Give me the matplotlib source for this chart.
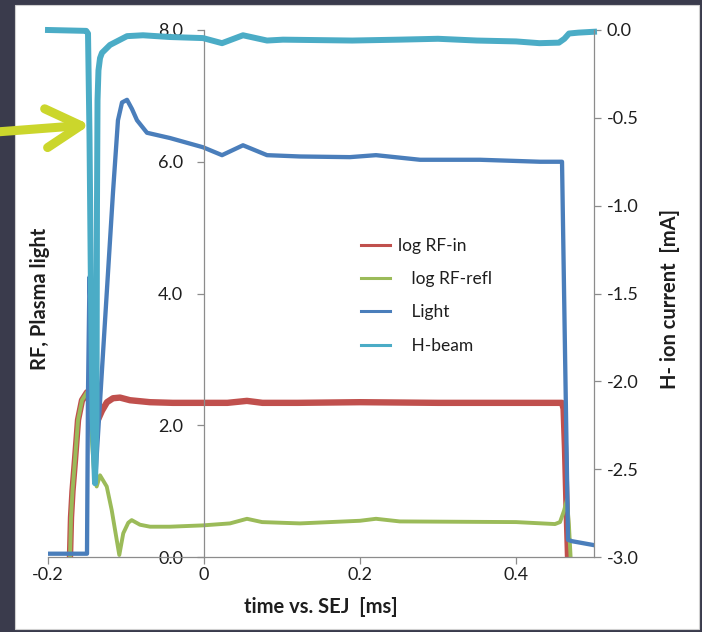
import matplotlib

matplotlib.use("Agg")
import matplotlib.pyplot as plt
from matplotlib.patches import Rectangle

plt.rcParams["font.family"] = ["Lato", "DejaVu Sans"]

# time axis in ms relative to SEJ
t_rf_in = [-0.1718, -0.1705, -0.1686, -0.1654, -0.1615, -0.1564, -0.150, -0.1462,
           -0.1397, -0.1372, -0.1308, -0.1244, -0.1167, -0.1077, -0.0949, -0.0692,
           -0.04, 0.0, 0.03, 0.055, 0.075, 0.12, 0.2, 0.3, 0.4, 0.459, 0.461,
           0.4628, 0.4647, 0.4667]
rf_in = [0.0, 0.6, 1.0, 1.47, 2.08, 2.38, 2.50, 2.30,
         2.03, 2.05, 2.22, 2.35, 2.41, 2.42, 2.38, 2.35,
         2.34, 2.34, 2.34, 2.37, 2.34, 2.34, 2.35, 2.34, 2.34, 2.34, 2.25,
         1.65, 0.8, 0.0]

t_rf_refl = [-0.1718, -0.1705, -0.1686, -0.1654, -0.1615, -0.1564, -0.150, -0.1462,
             -0.141, -0.1376, -0.1333, -0.1247, -0.1183, -0.1119, -0.1086, -0.1035,
             -0.0971, -0.0927, -0.0821, -0.0692, -0.0436, -0.0013, 0.0333, 0.0551,
             0.0744, 0.123, 0.2, 0.2205, 0.251, 0.4, 0.45, 0.4564, 0.4615, 0.4654,
             0.468, 0.470]
rf_refl = [0.0, 0.6, 1.0, 1.47, 2.08, 2.38, 2.50, 2.20,
           1.30, 1.07, 1.24, 1.07, 0.71, 0.26, 0.03, 0.36,
           0.52, 0.56, 0.49, 0.46, 0.46, 0.48, 0.51, 0.58,
           0.53, 0.51, 0.55, 0.58, 0.54, 0.53, 0.50, 0.53, 0.70, 0.87,
           0.45, 0.0]

t_light = [-0.2, -0.15, -0.1487, -0.1468, -0.1449, -0.1397, -0.1308, -0.1167,
           -0.1103, -0.1051, -0.0987, -0.0923, -0.0859, -0.0731, -0.0436, -0.0013,
           0.0231, 0.05, 0.0808, 0.123, 0.187, 0.2205, 0.277, 0.354, 0.4308,
           0.459, 0.4628, 0.4667, 0.4718, 0.5]
light = [0.05, 0.05, 2.5, 4.25, 3.6, 1.12, 2.84, 5.53,
         6.63, 6.90, 6.94, 6.80, 6.63, 6.44, 6.36, 6.22,
         6.10, 6.25, 6.10, 6.08, 6.07, 6.10, 6.03, 6.03, 6.00,
         6.00, 3.14, 0.26, 0.24, 0.18]

t_beam = [-0.2, -0.151, -0.1487, -0.1468, -0.1449, -0.1429, -0.1397, -0.1378,
          -0.1372, -0.1365, -0.1353, -0.1333, -0.1308, -0.1205, -0.0987, -0.0782,
          -0.0436, -0.0013, 0.0231, 0.05, 0.0808, 0.1013, 0.19, 0.25, 0.3, 0.35,
          0.4, 0.43, 0.455, 0.462, 0.468, 0.48, 0.5]
h_beam = [0.0, -0.005, -0.02, -0.6, -1.5, -2.2, -2.58, -2.2,
          -1.0, -0.4, -0.23, -0.16, -0.13, -0.085, -0.035, -0.03,
          -0.04, -0.046, -0.075, -0.03, -0.06, -0.055, -0.06, -0.055, -0.05, -0.06,
          -0.065, -0.075, -0.072, -0.05, -0.02, -0.015, -0.01]

x_ticks = [-0.2, 0, 0.2, 0.4]
x_tick_labels = ["-0.2", "0", "0.2", "0.4"]
left_ticks = [0, 2, 4, 6, 8]
right_ticks = [0.0, -0.5, -1.0, -1.5, -2.0, -2.5, -3.0]
series_names = ["log RF-in", "   log RF-refl", "   Light", "   H-beam"]

RED, GREEN, BLUE, CYAN = "#c0504d", "#9bbb59", "#4a7ebb", "#4bacc6"
AXIS_GRAY = "#8c8c8c"
TEXT = "#1e1e1e"

fig = plt.figure(figsize=(7.02, 6.32), dpi=100, facecolor="#3a3b4c")
fig.patches.append(Rectangle((15 / 702, 3 / 632), 684 / 702, 624 / 632,
                             transform=fig.transFigure, facecolor="white",
                             edgecolor="#d0d0d0", lw=0.8, zorder=-10))

ax = fig.add_axes([48 / 702, 75 / 632, 546 / 702, 527 / 632])
ax.patch.set_visible(False)
ax2 = ax.twinx()
ax2.patch.set_visible(False)

l1, = ax.plot(t_rf_in, rf_in, color=RED, lw=4.6, solid_joinstyle="round")
l2, = ax.plot(t_rf_refl, rf_refl, color=GREEN, lw=2.8, solid_joinstyle="round")
l3, = ax.plot(t_light, light, color=BLUE, lw=3.1, solid_joinstyle="round")
l4, = ax2.plot(t_beam, h_beam, color=CYAN, lw=4.3, solid_joinstyle="round", clip_on=False)

ax.set_xlim(-0.2, 0.5)
ax.set_ylim(0, 8)
ax2.set_ylim(-3, 0)

# y axis crosses at t = 0, x axis at 0
for s in ("top", "right"):
    ax.spines[s].set_visible(False)
ax.spines["left"].set_position(("data", 0))
ax.spines["bottom"].set_position(("data", 0))
for s in ("left", "bottom"):
    ax.spines[s].set_color(AXIS_GRAY)
    ax.spines[s].set_linewidth(0.9)
for s in ("left", "top", "bottom"):
    ax2.spines[s].set_visible(False)
ax2.spines["right"].set_color(AXIS_GRAY)
ax2.spines["right"].set_linewidth(0.9)

ax.set_xticks(x_ticks)
ax.set_xticklabels(x_tick_labels)
ax.set_yticks(left_ticks)
ax.set_yticklabels([f"{v:.1f}" for v in left_ticks])
ax2.set_yticks(right_ticks)
ax2.set_yticklabels([f"{v:.1f}" for v in right_ticks])

ax.tick_params(axis="x", direction="out", length=5, width=0.9, color=AXIS_GRAY,
               labelsize=13, labelcolor=TEXT, pad=2)
ax.tick_params(axis="y", direction="out", length=5, width=0.9, color=AXIS_GRAY,
               labelsize=13, labelcolor=TEXT, pad=10)
ax2.tick_params(axis="y", direction="out", length=5, width=0.9, color=AXIS_GRAY,
                labelsize=13, labelcolor=TEXT, pad=4)

ax.set_xlabel("time vs. SEJ  [ms]", fontsize=14.5, fontweight="bold", color=TEXT)
ax.xaxis.set_label_coords(0.5, -0.076)
ax.set_ylabel("RF, Plasma light", fontsize=14.5, fontweight="bold", color=TEXT)
ax.yaxis.set_label_coords(0.003, 0.49)
ax2.set_ylabel("H- ion current  [mA]", fontsize=14.5, fontweight="bold", color=TEXT)
ax2.yaxis.set_label_coords(1.12, 0.49)

ax2.legend([l1, l2, l3, l4], series_names,
           loc="upper left", bbox_to_anchor=(0.573, 0.606), frameon=False,
           fontsize=12.5, handlelength=1.7, handletextpad=0.45, labelspacing=1.0,
           borderpad=0, borderaxespad=0, labelcolor=TEXT)
for h in ax2.get_legend().get_lines():
    h.set_linewidth(2.2)

# pointer onto the H-beam dip
ax2.annotate("", xy=(-0.1462, -0.54), xycoords="data",
             xytext=(-4, 500), textcoords="figure pixels", annotation_clip=False,
             arrowprops=dict(arrowstyle="->,head_length=1.25,head_width=0.7",
                             lw=6.5, color="#cbd62c", shrinkA=0, shrinkB=0,
                             mutation_scale=20, capstyle="round", joinstyle="round"))

fig.savefig("out.png", dpi=100, facecolor=fig.get_facecolor())
